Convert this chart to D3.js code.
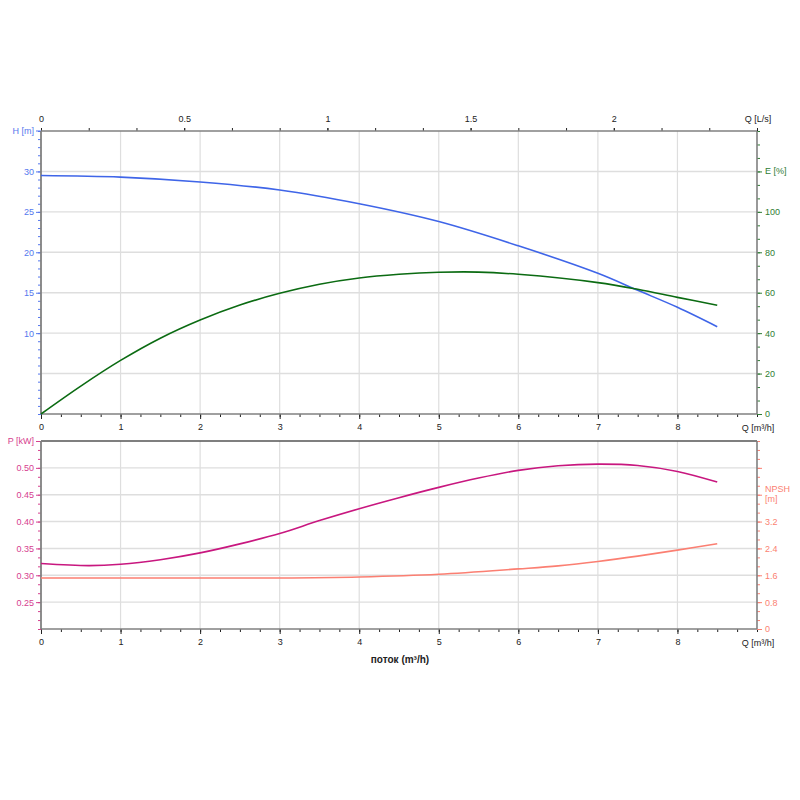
<!DOCTYPE html>
<html><head><meta charset="utf-8">
<script src="https://cdn.jsdelivr.net/npm/d3@7"></script>
<style>
body{margin:0;background:#fff}
text{font-family:"Liberation Sans",Arial,sans-serif}
</style>
</head><body>
<svg id="c" width="800" height="800"></svg>
<script>
// ---- data ----
const qH   = [0, 1, 2, 3, 4, 5, 6, 7, 7.5, 8, 8.5];
const head = [29.5, 29.3, 28.7, 27.7, 26.0, 23.8, 20.8, 17.4, 15.3, 13.2, 10.8];

const qE  = [0, 0.5, 1, 1.5, 2, 2.5, 3, 3.5, 4, 4.5, 5, 5.5, 6, 7, 7.5, 8, 8.5];
const eff = [0, 13.8, 26.5, 37.5, 46.5, 53.9, 59.7, 64.2, 67.3, 69.1, 70.1, 70.2, 69.1, 65.0, 61.7, 57.7, 53.8];

const qP    = [0, 0.6, 1, 1.5, 2, 2.5, 3, 3.5, 4, 4.5, 5, 5.5, 6, 6.5, 7, 7.5, 8, 8.5];
const power = [0.322, 0.318, 0.3205, 0.329, 0.3417, 0.3585, 0.3777, 0.4018, 0.424, 0.4445, 0.4637, 0.481, 0.4953, 0.5039, 0.507, 0.5045, 0.4933, 0.4735];

const qN   = [0, 1, 2, 3, 4, 5, 6, 6.5, 7, 7.5, 8, 8.5];
const npsh = [1.52, 1.52, 1.52, 1.52, 1.55, 1.63, 1.79, 1.88, 2.01, 2.17, 2.35, 2.54];

const qTicks     = [0, 1, 2, 3, 4, 5, 6, 7, 8];
const qLsTicks   = [0, 0.5, 1, 1.5, 2];
const hTicks     = [10, 15, 20, 25, 30];
const eTicks     = [0, 20, 40, 60, 80, 100];
const pTicks     = [0.25, 0.30, 0.35, 0.40, 0.45, 0.50];
const npshTicks  = [0, 0.8, 1.6, 2.4, 3.2];

// ---- styles ----
const C = {
  axis: "#808080", grid: "#dedede",
  hLine: "#3f65e8", hText: "#5577ee",
  eLine: "#0b6b12", eText: "#2f7d34",
  pLine: "#c8177f", pText: "#d6408f",
  nLine: "#fb7f72", nText: "#fb7f72",
  black: "#222"
};

const svg = d3.select("#c");
const L = 41, R = 757;
const T1 = 131, B1 = 414, T2 = 441, B2 = 629;

const x   = d3.scaleLinear([0, 9], [L, R]);
const xLs = d3.scaleLinear([0, 2.5], [L, R]);
const yH  = d3.scaleLinear([0, 35], [B1, T1]);
const yE  = d3.scaleLinear([0, 140], [B1, T1]);
const yP  = d3.scaleLinear([0.2, 0.55], [B2, T2]);
const yN  = d3.scaleLinear([0, 5.6], [B2, T2]);

// gridlines
const g = svg.append("g");
qTicks.filter(d => d > 0).forEach(d => {
  g.append("line").attr("x1", x(d)).attr("x2", x(d)).attr("y1", T1).attr("y2", B1)
    .attr("stroke", C.grid).attr("stroke-width", 1.2);
  g.append("line").attr("x1", x(d)).attr("x2", x(d)).attr("y1", T2).attr("y2", B2)
    .attr("stroke", C.grid).attr("stroke-width", 1.2);
});
[5, 10, 15, 20, 25, 30].forEach(d => {
  g.append("line").attr("x1", L).attr("x2", R).attr("y1", yH(d)).attr("y2", yH(d))
    .attr("stroke", C.grid).attr("stroke-width", 1.4);
});
pTicks.forEach(d => {
  g.append("line").attr("x1", L).attr("x2", R).attr("y1", yP(d)).attr("y2", yP(d))
    .attr("stroke", C.grid).attr("stroke-width", 1.4);
});

function styleAxis(sel, tickColor, textColor) {
  sel.selectAll("text").attr("fill", textColor).style("font-size", "9px")
     .style("font-family", '"Liberation Sans", Arial, sans-serif');
  sel.selectAll("line").attr("stroke", tickColor);
  sel.select(".domain").remove();
}
function range(a, b, s) { const out = []; for (let v = a; v <= b + 1e-9; v += s) out.push(+v.toFixed(6)); return out; }

// ---- top chart axes ----
svg.append("g").attr("transform", `translate(0,${T1})`)
  .call(d3.axisTop(xLs).tickValues(range(0, 2.5, 0.5 / 3)).tickSize(3).tickFormat(""))
  .call(s => styleAxis(s, C.black, C.black));
svg.append("g").attr("transform", `translate(0,${T1})`)
  .call(d3.axisTop(xLs).tickValues(qLsTicks).tickSize(3).tickPadding(6).tickFormat(d3.format("~g")))
  .call(s => styleAxis(s, C.black, C.black));
[B1, B2].forEach(yy => {
  svg.append("g").attr("transform", `translate(0,${yy})`)
    .call(d3.axisBottom(x).tickValues(range(0, 9, 0.25)).tickSize(3).tickFormat(""))
    .call(s => styleAxis(s, C.black, C.black));
  svg.append("g").attr("transform", `translate(0,${yy})`)
    .call(d3.axisBottom(x).tickValues(qTicks).tickSize(5).tickPadding(5).tickFormat(d3.format("d")))
    .call(s => styleAxis(s, C.black, C.black));
});
svg.append("g").attr("transform", `translate(${L},0)`)
  .call(d3.axisLeft(yH).tickValues(range(0, 35, 1)).tickSize(3).tickFormat(""))
  .call(s => styleAxis(s, C.hText, C.hText));
svg.append("g").attr("transform", `translate(${L},0)`)
  .call(d3.axisLeft(yH).tickValues(hTicks).tickSize(5).tickPadding(2).tickFormat(d3.format("d")))
  .call(s => styleAxis(s, C.hText, C.hText));
svg.append("line").attr("x1", L - 5).attr("x2", L).attr("y1", T1).attr("y2", T1).attr("stroke", C.hText);
svg.append("g").attr("transform", `translate(${R},0)`)
  .call(d3.axisRight(yE).tickValues(range(0, 140, 20 / 3)).tickSize(3).tickFormat(""))
  .call(s => styleAxis(s, C.eText, C.eText));
svg.append("g").attr("transform", `translate(${R},0)`)
  .call(d3.axisRight(yE).tickValues(eTicks.concat([120])).tickSize(5).tickPadding(3)
        .tickFormat(d => d === 120 ? "" : d3.format("d")(d)))
  .call(s => styleAxis(s, C.eText, C.eText));

// ---- bottom chart axes ----
svg.append("g").attr("transform", `translate(${L},0)`)
  .call(d3.axisLeft(yP).tickValues(range(0.2, 0.55, 0.05 / 3)).tickSize(3).tickFormat(""))
  .call(s => styleAxis(s, C.pText, C.pText));
svg.append("g").attr("transform", `translate(${L},0)`)
  .call(d3.axisLeft(yP).tickValues(pTicks.concat([0.55])).tickSize(5).tickPadding(2)
        .tickFormat(d => d > 0.54 ? "" : d3.format(".2f")(d)))
  .call(s => styleAxis(s, C.pText, C.pText));
svg.append("g").attr("transform", `translate(${R},0)`)
  .call(d3.axisRight(yN).tickValues(range(0, 5.6, 0.8 / 3)).tickSize(3).tickFormat(""))
  .call(s => styleAxis(s, C.nText, C.nText));
svg.append("g").attr("transform", `translate(${R},0)`)
  .call(d3.axisRight(yN).tickValues(npshTicks.concat([4.0, 4.8])).tickSize(5).tickPadding(3)
        .tickFormat(d => d > 3.5 ? "" : d3.format(".1f")(d).replace(/^0\.0$/, "0")))
  .call(s => styleAxis(s, C.nText, C.nText));

// frames
const fr = svg.append("g").attr("stroke", C.axis).attr("fill", "none");
fr.append("line").attr("x1", L).attr("x2", R).attr("y1", T1).attr("y2", T1).attr("stroke-width", 1.6);
fr.append("line").attr("x1", L).attr("x2", R).attr("y1", B1).attr("y2", B1).attr("stroke-width", 1.6);
fr.append("line").attr("x1", L).attr("x2", L).attr("y1", T1).attr("y2", B1).attr("stroke-width", 1.8);
fr.append("line").attr("x1", R).attr("x2", R).attr("y1", T1).attr("y2", B1).attr("stroke-width", 1.6);
fr.append("line").attr("x1", L).attr("x2", R).attr("y1", T2).attr("y2", T2).attr("stroke-width", 1.6).attr("stroke", "#555");
fr.append("line").attr("x1", L).attr("x2", R).attr("y1", B2).attr("y2", B2).attr("stroke-width", 1.6);
fr.append("line").attr("x1", L).attr("x2", L).attr("y1", T2).attr("y2", B2).attr("stroke-width", 1.8);
fr.append("line").attr("x1", R).attr("x2", R).attr("y1", T2).attr("y2", B2).attr("stroke-width", 1.6);

// ---- curves ----
function drawCurve(qs, vs, yScale, color) {
  const pts = qs.map((q, i) => [q, vs[i]]);
  svg.append("path").datum(pts)
    .attr("d", d3.line().x(d => x(d[0])).y(d => yScale(d[1])).curve(d3.curveCatmullRom.alpha(0.5)))
    .attr("fill", "none").attr("stroke", color).attr("stroke-width", 1.6);
}
drawCurve(qH, head, yH, C.hLine);
drawCurve(qE, eff, yE, C.eLine);
drawCurve(qN, npsh, yN, C.nLine);
drawCurve(qP, power, yP, C.pLine);

// ---- axis titles ----
function txt(xx, yy, s, color, anchor, size, weight) {
  svg.append("text").attr("x", xx).attr("y", yy).attr("fill", color)
    .attr("text-anchor", anchor || "start").style("font-size", (size || 9) + "px")
    .style("font-weight", weight || "normal").text(s);
}
txt(34, T1 + 3, "H [m]", C.hText, "end");
txt(758, 122, "Q [L/s]", C.black, "middle");
txt(765, yE(120) + 3, "E [%]", C.eText, "start");
txt(758, 430.5, "Q [m³/h]", C.black, "middle");
txt(34, T2 + 3, "P [kW]", C.pText, "end");
txt(765, 492, "NPSH", C.nText, "start");
txt(765, 501.5, "[m]", C.nText, "start");
txt(758, 645.5, "Q [m³/h]", C.black, "middle");
txt(400, 663, "поток (m³/h)", C.black, "middle", 10, "bold");
</script>
</body></html>
